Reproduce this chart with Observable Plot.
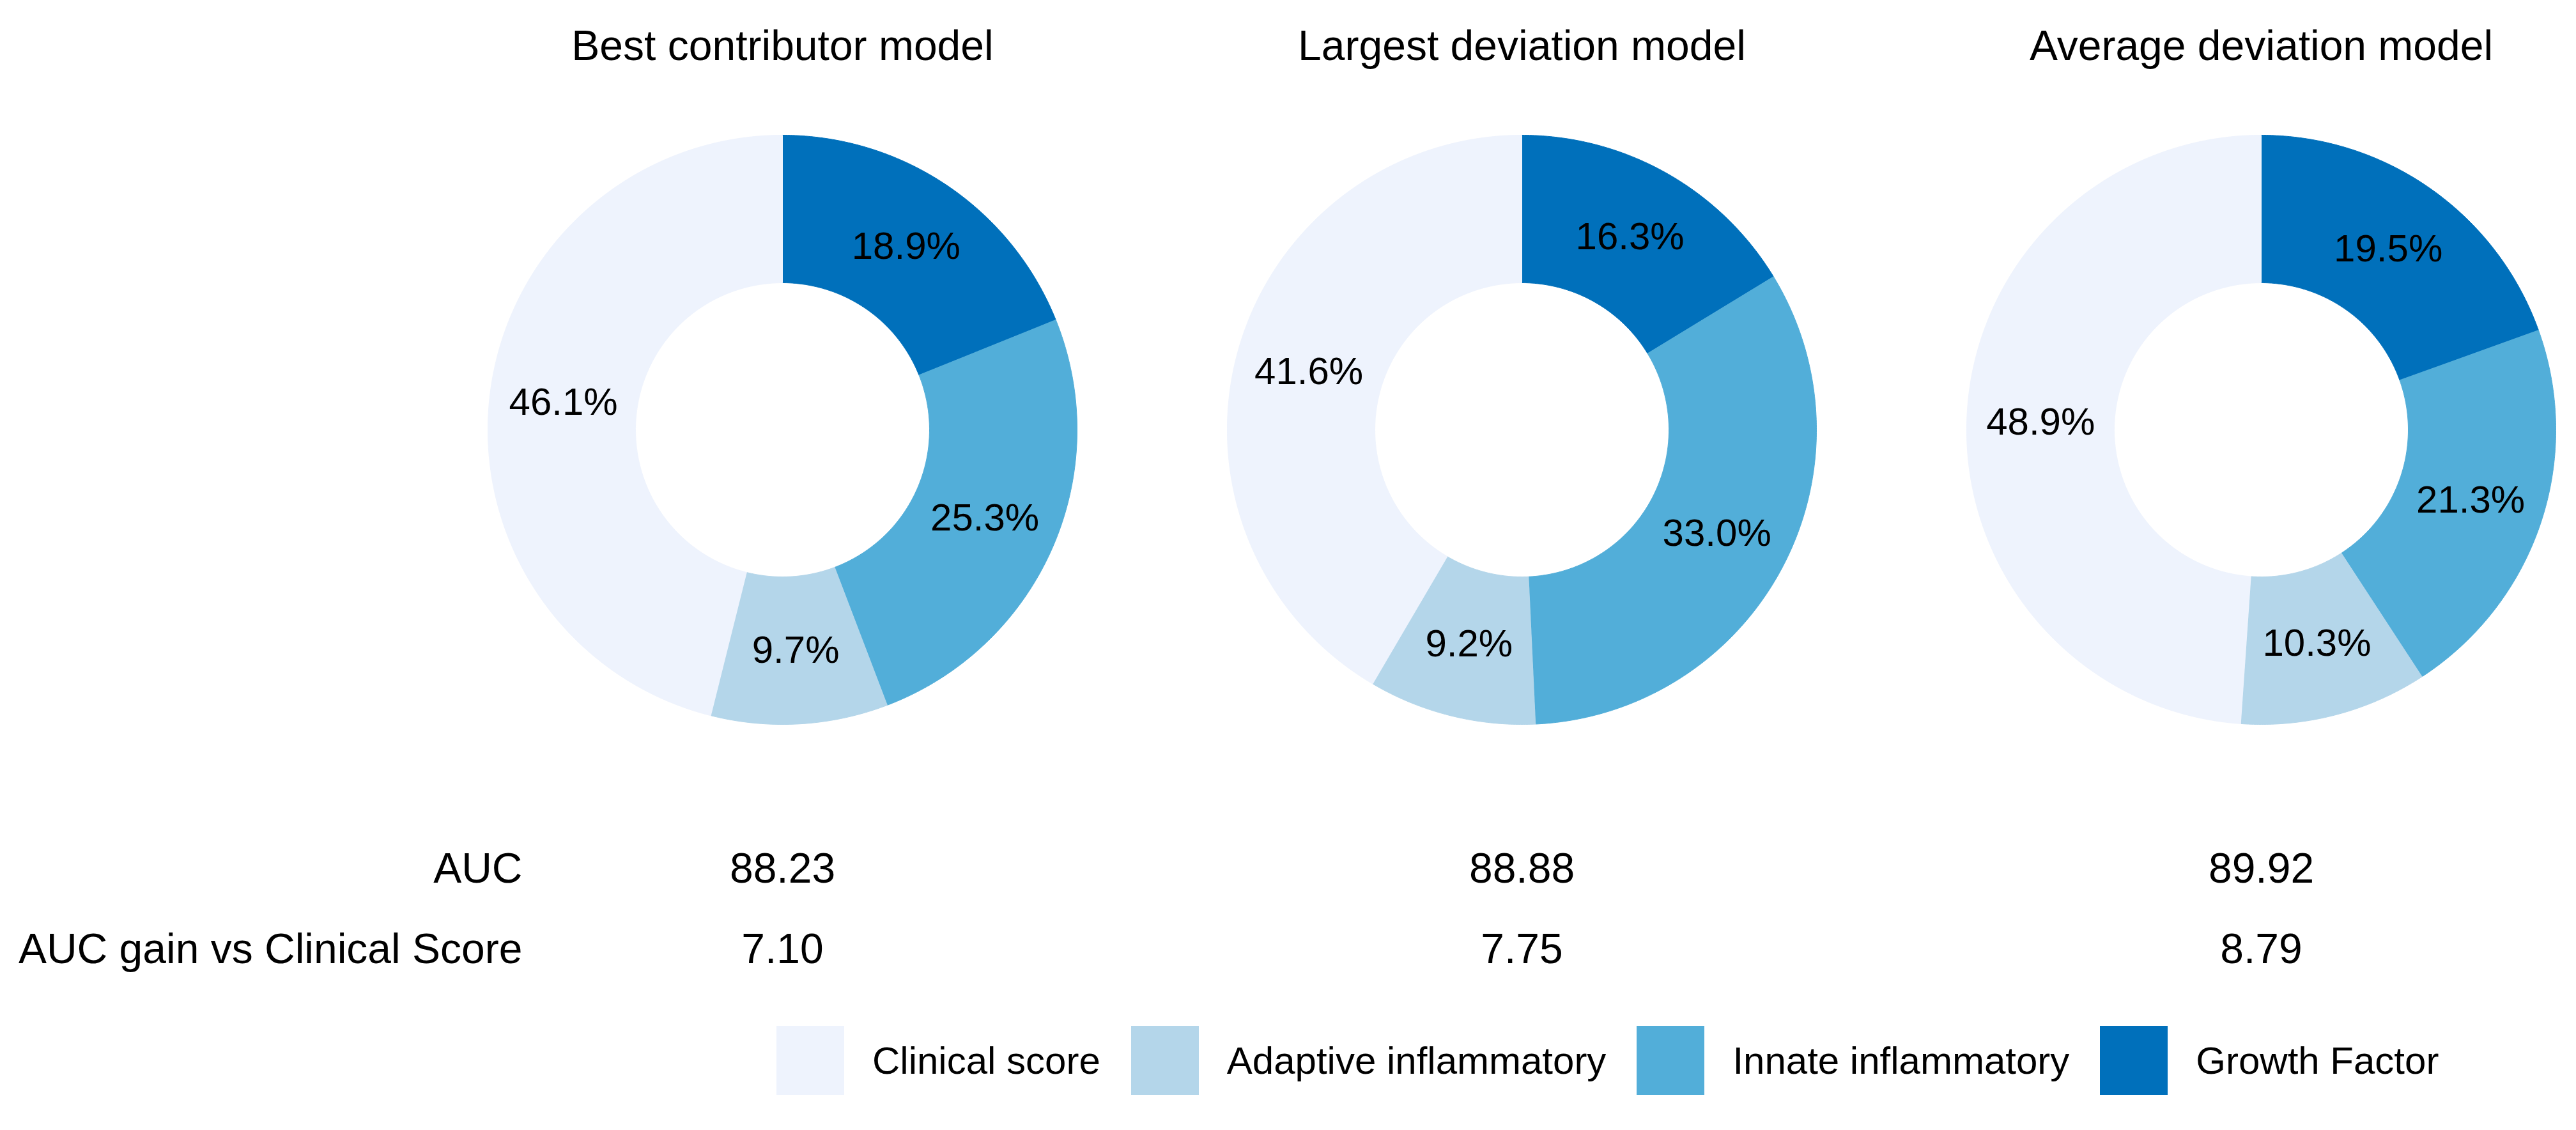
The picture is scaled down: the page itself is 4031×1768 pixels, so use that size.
<!DOCTYPE html>
<html>
<head>
<meta charset="utf-8">
<script src="https://cdn.jsdelivr.net/npm/d3@7"></script>
<script src="https://cdn.jsdelivr.net/npm/@observablehq/plot@0.6"></script>
<style>
  html, body { margin: 0; padding: 0; background: #fff; }
  #chart { width: 4031px; }
  #legend { padding-left: 1215px; margin-top: 25px; }
  .lg-swatches { font-family: "Liberation Sans", Arial, Helvetica, sans-serif; font-size: 60px; color: #000; margin: 0; }
  .lg-swatch { margin-right: 48px; }
  .lg-swatch > svg { margin-right: 44px; }
</style>
</head>
<body>
<div id="chart"></div>
<div id="legend"></div>
<script>
// ---------- data ----------
const models = ["Best contributor model", "Largest deviation model", "Average deviation model"];
const categories = ["Clinical score", "Adaptive inflammatory", "Innate inflammatory", "Growth Factor"];
const colors = ["#EEF3FD", "#B4D6EA", "#52AED9", "#0070BB"];
const clinical = [46.1, 41.6, 48.9];
const adaptive = [9.7, 9.2, 10.3];
const innate = [25.3, 33.0, 21.3];
const growth = [18.9, 16.3, 19.5];
const auc = [88.23, 88.88, 89.92];
const aucGain = [7.10, 7.75, 8.79];
const rowLabels = ["AUC", "AUC gain vs Clinical Score"];

// ---------- layout (pixels) ----------
const W = 4031, H = 1580;
const R = 461, R0 = 230, cy = 672;
const step = 1157, band = 960, firstCenter = 1224;
const marginLeft = firstCenter - band / 2;
const marginRight = W - marginLeft - (2 * step + band);
const half = band / 2 / R;
const yTop = cy / R, yBot = -(H - cy) / R;
const inner = R0 / R;
const titleY = (cy - 93) / R;
const aucY = (cy - 1380) / R;
const gainY = (cy - 1506) / R;
const rowLabelDx = -(firstCenter - 817);

// ---------- slices (clockwise from 12 o'clock) ----------
const seriesByCat = {
  "Clinical score": clinical,
  "Adaptive inflammatory": adaptive,
  "Innate inflammatory": innate,
  "Growth Factor": growth
};
const drawOrder = ["Growth Factor", "Innate inflammatory", "Adaptive inflammatory", "Clinical score"];
const slices = [];
models.forEach((m, i) => {
  const total = d3.sum(drawOrder, c => seriesByCat[c][i]);
  let acc = 0;
  for (const c of drawOrder) {
    const v = seriesByCat[c][i];
    const a0 = acc / total * 2 * Math.PI;
    acc += v;
    const a1 = acc / total * 2 * Math.PI;
    slices.push({model: m, cat: c, value: v, a0, a1, mid: (a0 + a1) / 2});
  }
});
const pts = slices.flatMap(s => {
  const n = Math.max(2, Math.ceil((s.a1 - s.a0) / (Math.PI / 360)));
  const angles = d3.range(n + 1).map(k => s.a0 + (s.a1 - s.a0) * k / n);
  const outer = angles.map(a => ({model: s.model, cat: s.cat, x: Math.sin(a), y: Math.cos(a)}));
  const inn = angles.slice().reverse().map(a => ({model: s.model, cat: s.cat, x: inner * Math.sin(a), y: inner * Math.cos(a)}));
  return [...outer, ...inn];
});
const rm = (1 + inner) / 2;

const aucRows = models.map((m, i) => ({model: m, v: auc[i]}));
const gainRows = models.map((m, i) => ({model: m, v: aucGain[i]}));
const labelRows = rowLabels.map((t, j) => ({model: models[0], t, y: j === 0 ? aucY : gainY}));

const font = '"Liberation Sans", Arial, Helvetica, sans-serif';

const chart = Plot.plot({
  width: W,
  height: H,
  marginLeft,
  marginRight,
  marginTop: 0,
  marginBottom: 0,
  style: {fontFamily: font, background: "#fff", color: "#000", overflow: "visible"},
  fx: {domain: models, paddingInner: (step - band) / step, paddingOuter: 0, round: false, axis: null},
  x: {domain: [-half, half], axis: null},
  y: {domain: [yBot, yTop], axis: null},
  color: {domain: categories, range: colors},
  marks: [
    Plot.line(pts, {
      fx: "model", x: "x", y: "y",
      z: d => d.model + "|" + d.cat,
      fill: "cat", stroke: "cat", strokeWidth: 1, curve: "linear"
    }),
    Plot.text(slices, {
      fx: "model",
      x: d => rm * Math.sin(d.mid),
      y: d => rm * Math.cos(d.mid),
      text: d => d.value.toFixed(1) + "%",
      fontSize: 60, fill: "#000"
    }),
    Plot.text(models, {
      fx: d => d, x: 0, y: titleY, text: d => d,
      fontSize: 66, fill: "#000", lineAnchor: "bottom"
    }),
    Plot.text(aucRows, {
      fx: "model", x: 0, y: aucY, text: d => d.v.toFixed(2),
      fontSize: 66, fill: "#000", lineAnchor: "bottom"
    }),
    Plot.text(gainRows, {
      fx: "model", x: 0, y: gainY, text: d => d.v.toFixed(2),
      fontSize: 66, fill: "#000", lineAnchor: "bottom"
    }),
    Plot.text(labelRows, {
      fx: "model", x: 0, y: "y", dx: rowLabelDx, text: "t",
      textAnchor: "end", fontSize: 66, fill: "#000", lineAnchor: "bottom"
    })
  ]
});
document.getElementById("chart").appendChild(chart);

const legend = Plot.legend({
  color: {domain: categories, range: colors},
  legend: "swatches",
  swatchWidth: 106,
  swatchHeight: 108,
  className: "lg"
});
document.getElementById("legend").appendChild(legend);
</script>
</body>
</html>
